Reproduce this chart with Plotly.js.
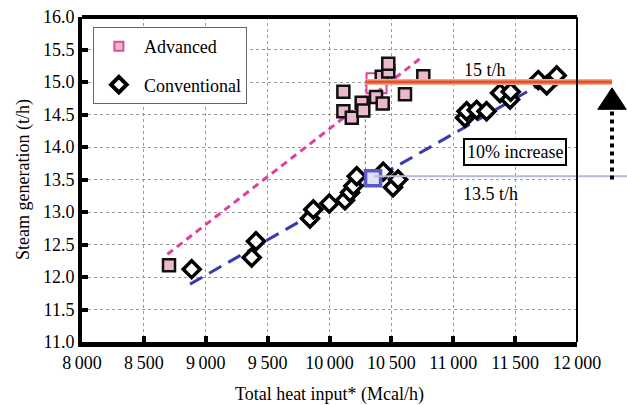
<!DOCTYPE html>
<html>
<head>
<meta charset="utf-8">
<script src="https://cdn.plot.ly/plotly-3.0.1.min.js"></script>
<style>html,body{margin:0;padding:0;background:#fff;}#chart{width:627px;height:405px;}</style>
</head>
<body>
<div id="chart"></div>
<script>
// ---- data ----
const advancedX = [8703, 10112, 10112, 10180, 10260, 10273, 10376, 10430, 10422, 10475, 10475, 10610, 10758];
const advancedY = [12.18, 14.85, 14.55, 14.45, 14.68, 14.56, 14.77, 14.67, 15.08, 15.16, 15.28, 14.81, 15.09];

const conventionalX = [8886, 9371, 9406, 9842, 9869, 9998, 10125, 10166, 10193, 10220, 10434, 10513, 10554,
                       11095, 11108, 11189, 11269, 11378, 11459, 11464, 11687, 11755, 11836];
const conventionalY = [12.12, 12.30, 12.55, 12.90, 13.04, 13.13, 13.18, 13.30, 13.40, 13.55, 13.62, 13.38, 13.50,
                       14.45, 14.55, 14.57, 14.55, 14.83, 14.73, 14.85, 15.03, 14.95, 15.10];

const advancedTrendX = [8690, 10760];
const advancedTrendY = [12.35, 15.40];
const conventionalTrendX = [8873, 11808];
const conventionalTrendY = [11.89, 15.08];

const highlightConvX = [10352];
const highlightConvY = [13.52];
const highlightAdvX = [10380];
const highlightAdvY = [14.98];

const targetLevel = 15.0;     // 15 t/h
const baseLevel = 13.55;      // 13.5 t/h
const refLineStartX = 10290;
const baseLineStartX = 10360;
const arrowX = 12283;
const lineEndX = 12283;
const baseLineEndX = 12420;

const xTickVals = [8000, 8500, 9000, 9500, 10000, 10500, 11000, 11500, 12000];
const xTickText = ['8\u2009000', '8\u2009500', '9\u2009000', '9\u2009500', '10\u2009000', '10\u2009500', '11\u2009000', '11\u2009500', '12\u2009000'];
const yTickVals = [11, 11.5, 12, 12.5, 13, 13.5, 14, 14.5, 15, 15.5, 16];
const yTickText = ['11.0', '11.5', '12.0', '12.5', '13.0', '13.5', '14.0', '14.5', '15.0', '15.5', '16.0'];

const xRange = [8000, 12000];
const yRange = [11, 16];

const serif = 'Liberation Serif';
const px = v => (v - xRange[0]) / (xRange[1] - xRange[0]); // data x -> paper x

const traces = [
  {x: advancedTrendX, y: advancedTrendY, mode: 'lines', showlegend: false, hoverinfo: 'skip',
   line: {color: '#e0409c', width: 3, dash: '7px,5px'}},
  {x: conventionalTrendX, y: conventionalTrendY, mode: 'lines', showlegend: false, hoverinfo: 'skip',
   line: {color: '#3a3ab0', width: 3, dash: '14px,8px'}},
  {x: highlightAdvX, y: highlightAdvY, mode: 'markers', showlegend: false, hoverinfo: 'skip',
   marker: {symbol: 'square-open', size: 20, color: '#e0409c', line: {width: 2, color: '#e0409c'}}},
  {x: advancedX, y: advancedY, mode: 'markers', showlegend: false,
   marker: {symbol: 'square', size: 12, color: '#ecb8cc', line: {width: 2.5, color: '#111'}}},
  {x: conventionalX, y: conventionalY, mode: 'markers', showlegend: false,
   marker: {symbol: 'diamond', size: 13, color: '#fff', line: {width: 3.5, color: '#000'}}},
  {x: highlightConvX, y: highlightConvY, mode: 'markers', showlegend: false, hoverinfo: 'skip',
   marker: {symbol: 'square', size: 15, color: '#dfe2f8', line: {width: 3.5, color: '#5858c8'}}},
  // legend entries
  {x: [null], y: [null], mode: 'markers', name: 'Advanced', legendgroup: 'a',
   marker: {symbol: 'square', size: 9, color: '#f0b8d0', line: {width: 2, color: '#d8509a'}}},
  {x: [null], y: [null], mode: 'markers', name: 'Conventional', legendgroup: 'c',
   marker: {symbol: 'diamond', size: 12, color: '#fff', line: {width: 4, color: '#000'}}}
];

const shapes = [
  {type: 'line', xref: 'x', yref: 'y', x0: refLineStartX, x1: refLineStartX, y0: baseLevel, y1: targetLevel,
   line: {color: '#888', width: 1.2, dash: 'dot'}, layer: 'below'},
  {type: 'line', xref: 'paper', yref: 'y', x0: px(baseLineStartX), x1: px(baseLineEndX), y0: baseLevel, y1: baseLevel,
   line: {color: '#b8bcd8', width: 2}},
  {type: 'line', xref: 'paper', yref: 'y', x0: px(refLineStartX), x1: px(lineEndX), y0: targetLevel, y1: targetLevel,
   line: {color: '#f6a98c', width: 6}},
  {type: 'line', xref: 'paper', yref: 'y', x0: px(refLineStartX), x1: px(lineEndX), y0: targetLevel, y1: targetLevel,
   line: {color: '#e4502a', width: 3}},
  {type: 'line', xref: 'paper', yref: 'y', x0: px(arrowX), x1: px(arrowX), y0: 13.5, y1: 14.6,
   line: {color: '#000', width: 4, dash: 'dot'}},
  {type: 'path', xref: 'paper', yref: 'y',
   path: 'M ' + px(arrowX - 115) + ' 14.58 L ' + px(arrowX + 115) + ' 14.58 L ' + px(arrowX) + ' 14.91 Z',
   fillcolor: '#000', line: {color: '#000', width: 1}},
  {type: 'line', xref: 'paper', yref: 'paper', x0: 0, x1: 1, y0: 1, y1: 1, line: {color: '#000', width: 4}},
  {type: 'line', xref: 'paper', yref: 'paper', x0: 1, x1: 1, y0: 0, y1: 1, line: {color: '#000', width: 2}}
];

const annotations = [
  {x: 11257, y: 15.18, xref: 'x', yref: 'y', text: '15 t/h', showarrow: false,
   font: {family: serif, size: 18, color: '#000'}},
  {x: 11297, y: 13.27, xref: 'x', yref: 'y', text: '13.5 t/h', showarrow: false,
   font: {family: serif, size: 18, color: '#000'}},
  {x: 11500, y: 13.93, xref: 'x', yref: 'y', text: '10% increase', showarrow: false,
   bgcolor: '#fff', bordercolor: '#000', borderwidth: 2, borderpad: 2,
   font: {family: serif, size: 18, color: '#000'}}
];

const layout = {
  width: 627, height: 405,
  margin: {l: 82, r: 50, t: 17, b: 63},
  paper_bgcolor: '#fff', plot_bgcolor: '#fff',
  font: {family: serif, size: 18, color: '#000'},
  showlegend: true,
  legend: {x: 0.022, y: 0.969, xanchor: 'left', yanchor: 'top', bgcolor: '#fff',
           bordercolor: '#666', borderwidth: 1, font: {family: serif, size: 18, color: '#000'},
           tracegroupgap: 12, traceorder: 'grouped', entrywidth: 162, itemwidth: 40},
  xaxis: {range: xRange, tickvals: xTickVals, ticktext: xTickText, showline: true, linecolor: '#000', linewidth: 5,
          ticks: 'inside', ticklen: 6, tickwidth: 4, tickcolor: '#000', showgrid: true, gridcolor: '#999',
          griddash: 'dot', gridwidth: 1, zeroline: false, tickfont: {family: serif, size: 18},
          title: {text: 'Total heat input* (Mcal/h)', font: {family: serif, size: 18}, standoff: 20}},
  yaxis: {range: yRange, tickvals: yTickVals, ticktext: yTickText, showline: true, linecolor: '#000', linewidth: 4,
          ticks: 'inside', ticklen: 6, tickwidth: 4, tickcolor: '#000', showgrid: true, gridcolor: '#999',
          griddash: 'dot', gridwidth: 1, zeroline: false, tickfont: {family: serif, size: 18},
          title: {text: 'Steam generation (t/h)', font: {family: serif, size: 18}, standoff: 10}},
  shapes: shapes,
  annotations: annotations
};

Plotly.newPlot('chart', traces, layout, {displayModeBar: false, staticPlot: true});
</script>
</body>
</html>
